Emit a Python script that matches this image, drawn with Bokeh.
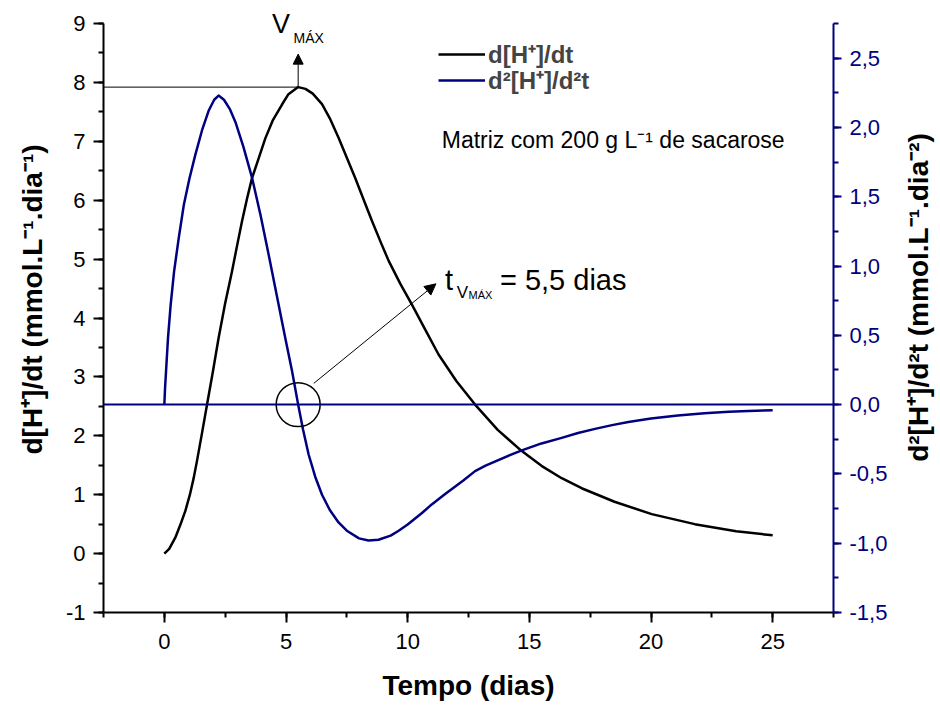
import math
from bokeh.plotting import figure
from bokeh.layouts import row
from bokeh.models import (Range1d, LinearAxis, SingleIntervalTicker, CustomJSTickFormatter,
                          Span, Arrow, NormalHead, Label, Legend, LegendItem)
from bokeh.embed import file_html
from bokeh.resources import INLINE

# ---------------- data ----------------
time_d1 = [0.0, 0.2, 0.45, 0.65, 0.86, 1.05, 1.21, 1.34, 1.55, 1.75, 2.0, 2.23, 2.5, 2.78,
           3.0, 3.19, 3.4, 3.6, 3.9, 4.15, 4.45, 4.83, 5.1, 5.5, 5.8, 6.1, 6.48, 6.8, 7.16,
           7.5, 7.84, 8.2, 8.53, 8.9, 9.22, 9.7, 10.17, 10.7, 11.27, 12.0, 12.77, 13.7,
           14.69, 15.5, 16.33, 17.15, 18.5, 20.03, 21.8, 23.5, 25.0]
rate_d1 = [0.0, 0.08, 0.27, 0.48, 0.72, 1.0, 1.29, 1.57, 2.05, 2.52, 3.1, 3.66, 4.25, 4.79,
           5.25, 5.64, 6.03, 6.37, 6.74, 7.05, 7.35, 7.62, 7.80, 7.92, 7.89, 7.81, 7.63, 7.39,
           7.06, 6.72, 6.38, 6.0, 5.65, 5.28, 4.97, 4.58, 4.23, 3.82, 3.38, 2.93, 2.53, 2.10,
           1.74, 1.49, 1.28, 1.11, 0.88, 0.67, 0.50, 0.38, 0.31]

time_d2 = [0.0, 0.03, 0.07, 0.15, 0.26, 0.40, 0.59, 0.80, 1.03, 1.27, 1.55, 1.82, 2.05, 2.23,
           2.45, 2.7, 2.92, 3.25, 3.6, 3.95, 4.29, 4.63, 4.97, 5.25, 5.5, 5.7, 5.93, 6.2,
           6.48, 6.8, 7.16, 7.5, 8.0, 8.39, 8.8, 9.3, 9.63, 10.0, 10.6, 10.99, 11.5, 12.3,
           12.77, 13.2, 14.2, 14.69, 15.5, 16.33, 17.0, 17.7, 18.4, 19.07, 20.0, 21.1, 22.2,
           23.2, 24.0, 25.0]
accel_d2 = [0.0, 0.12, 0.24, 0.48, 0.72, 0.96, 1.20, 1.44, 1.63, 1.80, 1.98, 2.12, 2.20, 2.23,
            2.20, 2.13, 2.04, 1.86, 1.64, 1.37, 1.08, 0.78, 0.48, 0.24, 0.0, -0.18, -0.36,
            -0.52, -0.65, -0.76, -0.85, -0.91, -0.965, -0.98, -0.975, -0.945, -0.91, -0.865,
            -0.78, -0.72, -0.65, -0.545, -0.48, -0.44, -0.365, -0.33, -0.28, -0.24, -0.205,
            -0.175, -0.148, -0.125, -0.10, -0.078, -0.062, -0.052, -0.046, -0.04]

series_names = ["d[H⁺]/dt", "d²[H⁺]/d²t"]
x_label = "Tempo (dias)"
y_label_left = "d[H⁺]/dt (mmol.L⁻¹.dia⁻¹)"
y_label_right = "d²[H⁺]/d²t (mmol.L⁻¹.dia⁻²)"
note_text = "Matriz com 200 g L⁻¹ de sacarose"
t_vmax_text = "= 5,5 dias"

left_bounds = (-1, 9)
right_bounds = (-1.5, 2.75)

FONT = "Liberation Sans"
BLUE = "#000080"
H = 709
LEFT_STRIP = 52
RIGHT_STRIP = 40

# frame: the axes span 589 px; the frame is taller (607 px) so that the
# "V" annotation above the top tick is not clipped.
AXIS_PX = 589
FRAME_PX = 607
left_end = left_bounds[0] + (left_bounds[1] - left_bounds[0]) * FRAME_PX / AXIS_PX
right_end = right_bounds[0] + (right_bounds[1] - right_bounds[0]) * FRAME_PX / AXIS_PX

p = figure(frame_width=730, frame_height=FRAME_PX,
           x_range=Range1d(-2.5, 27.5), y_range=Range1d(left_bounds[0], left_end),
           output_backend="svg", toolbar_location=None,
           min_border_left=103 - LEFT_STRIP, min_border_right=107 - RIGHT_STRIP,
           min_border_top=5, min_border_bottom=97)
if p.title is not None:
    p.title.visible = False
p.extra_y_ranges = {"right": Range1d(right_bounds[0], right_end)}
p.outline_line_color = None
p.xgrid.grid_line_color = None
p.ygrid.grid_line_color = None
p.background_fill_color = "white"
p.border_fill_color = "white"


def style_axis(ax, color):
    ax.axis_line_color = color
    ax.axis_line_width = 2
    ax.major_tick_line_color = color
    ax.minor_tick_line_color = color
    ax.major_tick_line_width = 2
    ax.minor_tick_line_width = 2
    ax.major_tick_in = 0
    ax.minor_tick_in = 0
    ax.major_tick_out = 10
    ax.minor_tick_out = 5
    ax.major_label_text_font = FONT
    ax.major_label_text_font_size = "22px"
    ax.major_label_text_color = color
    ax.major_label_standoff = 8
    ax.axis_label_text_font = FONT
    ax.axis_label_text_font_style = "bold"
    ax.axis_label_text_font_size = "28px"
    ax.axis_label_text_color = "black"


xa = p.xaxis[0]
ya = p.yaxis[0]
xa.ticker = SingleIntervalTicker(interval=5, num_minor_ticks=2)
ya.ticker = SingleIntervalTicker(interval=1, num_minor_ticks=2)
ya.formatter = CustomJSTickFormatter(code="return tick.toFixed(0);")
ya.bounds = left_bounds
style_axis(xa, "black")
style_axis(ya, "black")
xa.major_label_standoff = 11
xa.axis_label = x_label
xa.axis_label_standoff = 18

ra = LinearAxis(y_range_name="right",
                ticker=SingleIntervalTicker(interval=0.5, num_minor_ticks=2),
                formatter=CustomJSTickFormatter(code="return tick.toFixed(1).replace('.', ',');"))
ra.bounds = right_bounds
style_axis(ra, BLUE)
ra.major_tick_out = 8
p.add_layout(ra, "right")

# zero line of the second derivative
p.add_layout(Span(location=0, dimension="width", y_range_name="right",
                  line_color=BLUE, line_width=2))

# curves
r1 = p.line(time_d1, rate_d1, line_color="black", line_width=2.5, line_join="round")
r2 = p.line(time_d2, accel_d2, line_color=BLUE, line_width=2.5, line_join="round",
            y_range_name="right")

# peak of first derivative
i_max = max(range(len(rate_d1)), key=lambda i: rate_d1[i])
peak_x, peak_y = time_d1[i_max], rate_d1[i_max]
p.segment(x0=[p.x_range.start], y0=[peak_y], x1=[peak_x], y1=[peak_y],
          line_color="black", line_width=1)
p.add_layout(Arrow(end=NormalHead(size=10, fill_color="black", line_color="black", line_width=1),
                   x_start=peak_x, y_start=peak_y, x_end=peak_x, y_end=8.48,
                   line_color="black", line_width=1))

# circle at zero crossing of the second derivative
p.scatter([peak_x], [0], y_range_name="right", marker="circle", size=44,
          fill_color=None, line_color="black", line_width=1.5)
p.add_layout(Arrow(end=NormalHead(size=11, fill_color="black", line_color="black", line_width=1),
                   x_start=6.14, y_start=2.89, x_end=11.16, y_end=4.58,
                   line_color="black", line_width=1))


# texts
def lab(fig, x, y, text, size, style="normal", align="left", angle=0.0, color="black"):
    fig.add_layout(Label(x=x, y=y, text=text, text_align=align, text_baseline="middle",
                         angle=angle, text_font=FONT, text_font_size=size,
                         text_font_style=style, text_color=color))


lab(p, 4.42, 9.00, "V", "27px")
lab(p, 5.31, 8.76, "MÁX", "14px")

lab(p, 11.53, 4.65, "t", "29px")
lab(p, 12.02, 4.425, "V", "17px")
lab(p, 12.50, 4.39, "MÁX", "11px")
lab(p, 13.79, 4.65, t_vmax_text, "29px")

lab(p, 11.40, 7.02, note_text, "23px")

# legend: one Legend per entry so the rows can sit closer than the text box height
for name, rend, loc in [(series_names[0], r1, (335, 542)), (series_names[1], r2, (335, 516))]:
    p.add_layout(Legend(items=[LegendItem(label=name, renderers=[rend])],
                        location=loc, border_line_color=None, background_fill_alpha=0,
                        padding=0, margin=0, spacing=0, glyph_width=47, glyph_height=26,
                        label_height=26, label_standoff=3, label_text_font=FONT,
                        label_text_font_style="bold", label_text_font_size="24px",
                        label_text_baseline="middle"))


# narrow strips that hold the rotated y-axis titles (read bottom to top)
def strip(width):
    f = figure(frame_width=width, frame_height=H, x_range=Range1d(0, width),
               y_range=Range1d(0, H), x_axis_type=None, y_axis_type=None,
               output_backend="svg", toolbar_location=None, min_border=0)
    if f.title is not None:
        f.title.visible = False
    f.outline_line_color = None
    f.background_fill_color = "white"
    f.border_fill_color = "white"
    return f


ql = strip(LEFT_STRIP)
lab(ql, 32, H - 294, y_label_left, "28px", style="bold", align="center", angle=math.pi / 2)
qr = strip(RIGHT_STRIP)
lab(qr, 18, H - 292, y_label_right, "28px", style="bold", align="center", angle=math.pi / 2)

layout = row(ql, p, qr, spacing=0)
open("out.html", "w").write(file_html(layout, INLINE))
